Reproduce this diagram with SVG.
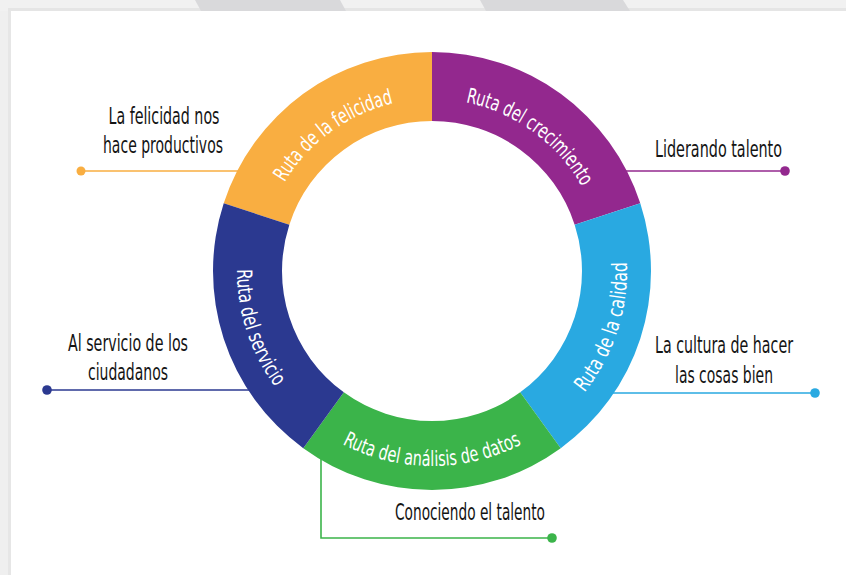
<svg xmlns="http://www.w3.org/2000/svg" xmlns:xlink="http://www.w3.org/1999/xlink" width="846" height="575" viewBox="0 0 846 575">
<style>
.seg-text{font-family:"Liberation Sans Narrow","DejaVu Sans Condensed","Liberation Sans",Arial,sans-serif;font-size:21px;fill:#ffffff;}
.label{font-family:"Liberation Sans Narrow","DejaVu Sans Condensed","Liberation Sans",Arial,sans-serif;font-size:23px;fill:#141414;text-anchor:middle;}
.conn{fill:none;stroke-width:1.6;}
</style>
<defs>
<path id="p-fel" d="M 274.87 201.04 A 172 172 0 0 1 414.02 99.94"/>
<path id="p-cre" d="M 449.98 99.94 A 172 172 0 0 1 589.13 201.04"/>
<path id="p-cal" d="M 562.48 415.91 A 195 195 0 0 0 622.74 230.46"/>
<path id="p-dat" d="M 334.5 439.88 A 195 195 0 0 0 529.5 439.88"/>
<path id="p-ser" d="M 241.26 230.46 A 195 195 0 0 0 301.52 415.91"/>
</defs>
<!-- background -->
<rect x="0" y="0" width="846" height="575" fill="#ffffff"/>
<rect x="0" y="0" width="11" height="575" fill="#efefef"/>
<rect x="8" y="8" width="3" height="567" fill="#e6e6e6"/>
<rect x="0" y="0" width="846" height="11" fill="#f1f1f1"/>
<rect x="8" y="8" width="838" height="3" fill="#e5e5e5"/>
<polygon points="195,0 340,0 346,11 201,11" fill="#d9d9db"/>
<polygon points="480,0 623,0 630,11 486,11" fill="#d9d9db"/>
<!-- connectors -->
<g id="connectors">
<line class="conn" stroke="#F9AE41" x1="81" y1="171" x2="260" y2="171"/>
<circle cx="81" cy="171" r="4.5" fill="#F9AE41"/>
<line class="conn" stroke="#93288E" x1="605" y1="171" x2="785" y2="171"/>
<circle cx="785" cy="171" r="4.8" fill="#93288E"/>
<line class="conn" stroke="#2B3990" x1="47" y1="390" x2="262" y2="390"/>
<circle cx="47" cy="390" r="4.8" fill="#2B3990"/>
<line class="conn" stroke="#29A9E1" x1="600" y1="393" x2="815" y2="393"/>
<circle cx="815" cy="393" r="4.8" fill="#29A9E1"/>
<polyline class="conn" stroke="#3BB44A" points="321,450 321,538 552,538"/>
<circle cx="552" cy="538" r="4.8" fill="#3BB44A"/>
</g>
<!-- ring segments -->
<g id="node-felicidad">
<path d="M 223.72 203.32 A 219 219 0 0 1 432 52 L 432 121 A 150 150 0 0 0 289.34 224.65 Z" fill="#F9AE41"/>
<text class="seg-text"><textPath xlink:href="#p-fel" href="#p-fel" startOffset="50%" text-anchor="middle" textLength="138" lengthAdjust="spacingAndGlyphs">Ruta de la felicidad</textPath></text>
<text class="label" x="164" y="124" textLength="111" lengthAdjust="spacingAndGlyphs">La felicidad nos</text>
<text class="label" x="163" y="153" textLength="120" lengthAdjust="spacingAndGlyphs">hace productivos</text>
</g>
<g id="node-crecimiento">
<path d="M 432 52 A 219 219 0 0 1 640.28 203.32 L 574.66 224.65 A 150 150 0 0 0 432 121 Z" fill="#93288E"/>
<text class="seg-text"><textPath xlink:href="#p-cre" href="#p-cre" startOffset="50%" text-anchor="middle" textLength="148" lengthAdjust="spacingAndGlyphs">Ruta del crecimiento</textPath></text>
<text class="label" x="718.5" y="157" textLength="127" lengthAdjust="spacingAndGlyphs">Liderando talento</text>
</g>
<g id="node-calidad">
<path d="M 640.28 203.32 A 219 219 0 0 1 560.73 448.17 L 520.17 392.35 A 150 150 0 0 0 574.66 224.65 Z" fill="#29A9E1"/>
<text class="seg-text"><textPath xlink:href="#p-cal" href="#p-cal" startOffset="50%" text-anchor="middle" textLength="140" lengthAdjust="spacingAndGlyphs">Ruta de la calidad</textPath></text>
<text class="label" x="724" y="353" textLength="138" lengthAdjust="spacingAndGlyphs">La cultura de hacer</text>
<text class="label" x="724" y="383" textLength="98" lengthAdjust="spacingAndGlyphs">las cosas bien</text>
</g>
<g id="node-datos">
<path d="M 560.73 448.17 A 219 219 0 0 1 303.27 448.17 L 343.83 392.35 A 150 150 0 0 0 520.17 392.35 Z" fill="#3BB44A"/>
<text class="seg-text"><textPath xlink:href="#p-dat" href="#p-dat" startOffset="50%" text-anchor="middle" textLength="186" lengthAdjust="spacingAndGlyphs">Ruta del análisis de datos</textPath></text>
<text class="label" x="470" y="520" textLength="150" lengthAdjust="spacingAndGlyphs">Conociendo el talento</text>
</g>
<g id="node-servicio">
<path d="M 303.27 448.17 A 219 219 0 0 1 223.72 203.32 L 289.34 224.65 A 150 150 0 0 0 343.83 392.35 Z" fill="#2B3990"/>
<text class="seg-text"><textPath xlink:href="#p-ser" href="#p-ser" startOffset="50%" text-anchor="middle" textLength="126" lengthAdjust="spacingAndGlyphs">Ruta del servicio</textPath></text>
<text class="label" x="128" y="351" textLength="120" lengthAdjust="spacingAndGlyphs">Al servicio de los</text>
<text class="label" x="128" y="380" textLength="80" lengthAdjust="spacingAndGlyphs">ciudadanos</text>
</g>
</svg>
